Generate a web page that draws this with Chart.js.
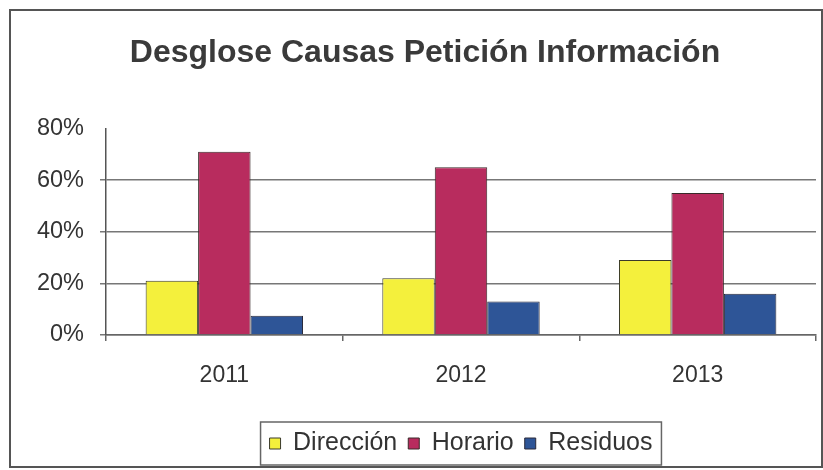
<!DOCTYPE html>
<html>
<head>
<meta charset="utf-8">
<script src="https://cdn.jsdelivr.net/npm/chart.js@4.4.1/dist/chart.umd.min.js"></script>
<style>
  html, body { margin: 0; padding: 0; background: #fff; }
  #wrap { width: 823px; height: 470px; position: relative; }
</style>
</head>
<body>
<div id="wrap"><canvas id="chart" width="823" height="470"></canvas></div>
<script>
// Datos del gráfico
const years = ['2011', '2012', '2013'];
const direccion = [21, 22, 29];
const horario = [71, 65, 55];
const residuos = [7.5, 13, 16];
const yTicks = [0, 20, 40, 60, 80];

const FONT = '"Liberation Sans", Arial, sans-serif';

// Fondo, marco exterior, leyenda centrada sobre el área del gráfico
const framePlugin = {
    id: 'frame',
    afterLayout(chart) {
        // la leyenda va centrada sobre el área de trazado, el título algo desplazado
        const lg = chart.legend;
        const shift = (chart.chartArea.left + chart.chartArea.right) / 2 - (lg.left + lg.right) / 2;
        lg.left += shift;
        lg.right += shift;
        (lg.legendHitBoxes || []).forEach(b => { b.left += shift; });
        const t = chart.titleBlock;
        if (t) { t.left += 12; t.right += 12; }
    },
    beforeDraw(chart) {
        const c = chart.ctx;
        c.save();
        c.fillStyle = '#fff';
        c.fillRect(0, 0, chart.width, chart.height);
        c.strokeStyle = '#555';
        c.lineWidth = 2;
        c.strokeRect(10, 10, 812, 457);
        c.restore();
    },
    afterDraw(chart) {
        const boxes = chart.legend.legendHitBoxes;
        if (!boxes || !boxes.length) return;
        const left = Math.min(...boxes.map(b => b.left)) - 9;
        const right = Math.max(...boxes.map(b => b.left + b.width)) + 9;
        const top = Math.min(...boxes.map(b => b.top)) - 9;
        const bottom = Math.max(...boxes.map(b => b.top + b.height)) + 9;
        const c = chart.ctx;
        c.save();
        c.strokeStyle = '#666';
        c.lineWidth = 1.5;
        c.strokeRect(left, top, right - left, bottom - top);
        c.restore();
    }
};

new Chart(document.getElementById('chart'), {
    type: 'bar',
    data: {
        labels: years,
        datasets: [
            { label: 'Dirección', data: direccion, backgroundColor: '#f4f03c', borderColor: '#3a3a2a', borderWidth: 1 },
            { label: 'Horario', data: horario, backgroundColor: '#b82c5e', borderColor: '#3a2a2a', borderWidth: 1 },
            { label: 'Residuos', data: residuos, backgroundColor: '#2e5597', borderColor: '#2a2a3a', borderWidth: 1 }
        ]
    },
    options: {
        responsive: false,
        animation: false,
        layout: { padding: { top: 10, left: 10, right: 7, bottom: 4 } },
        datasets: { bar: { categoryPercentage: 0.665, barPercentage: 1.0 } },
        scales: {
            x: {
                grid: { drawOnChartArea: false, offset: true, tickLength: 6, color: '#666', lineWidth: 1.5 },
                border: { color: '#666', width: 1.5 },
                ticks: { color: '#333', font: { family: FONT, size: 23 }, padding: 21 },
                afterFit(scale) { scale.height = 85; }
            },
            y: {
                min: 0,
                max: 80,
                afterBuildTicks(scale) { scale.ticks = yTicks.map(v => ({ value: v })); },
                grid: {
                    color: ctx => (ctx.tick && ctx.tick.value === 80 ? 'rgba(0,0,0,0)' : '#777'),
                    lineWidth: 1.5,
                    tickLength: 6,
                    drawTicks: true
                },
                border: { color: '#555', width: 1.5 },
                ticks: {
                    color: '#333',
                    font: { family: FONT, size: 23.5 },
                    padding: 16,
                    callback: v => v + '%'
                },
                afterFit(scale) { scale.width = 96; }
            }
        },
        plugins: {
            title: {
                display: true,
                text: 'Desglose Causas Petición Información',
                color: '#3a3a3a',
                font: { family: FONT, size: 32, weight: 'bold' },
                padding: { top: 24, bottom: 56 }
            },
            legend: {
                position: 'bottom',
                labels: {
                    color: '#333',
                    font: { family: FONT, size: 25 },
                    boxWidth: 11,
                    boxHeight: 11,
                    padding: 11
                }
            },
            tooltip: { enabled: false }
        }
    },
    plugins: [framePlugin]
});
</script>
</body>
</html>
